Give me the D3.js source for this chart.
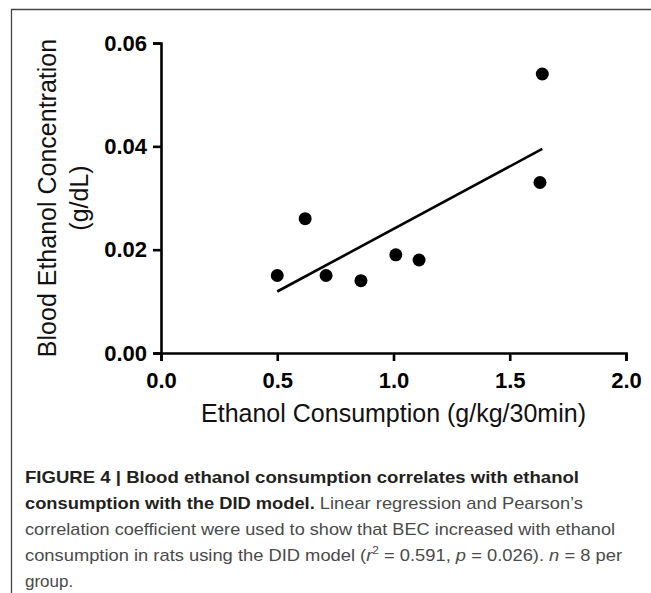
<!DOCTYPE html>
<html>
<head>
<meta charset="utf-8">
<script src="https://cdn.jsdelivr.net/npm/d3@7"></script>
<style>
  body { margin: 0; background: #fff; }
  svg { display: block; font-family: "Liberation Sans", Arial, Helvetica, sans-serif; }
</style>
</head>
<body>
<div id="chart"></div>
<script>
// values
var consumption = [0.50, 0.62, 0.71, 0.86, 1.01, 1.11, 1.63, 1.64];
var bec = [0.015, 0.026, 0.015, 0.014, 0.019, 0.018, 0.033, 0.054];
var fitX = [0.50, 1.64];
var fitY = [0.0119, 0.0395];
var xTicks = [0, 0.5, 1.0, 1.5, 2.0];
var yTicks = [0, 0.02, 0.04, 0.06];
var xTitle = "Ethanol Consumption (g/kg/30min)";
var yTitle = ["Blood Ethanol Concentration", "(g/dL)"];

var width = 651,
  height = 593;

var svg = d3
  .select("#chart")
  .append("svg")
  .attr("width", width)
  .attr("height", height);

// frame (top + left rule)
svg
  .append("path")
  .attr("d", "M11.5,593V9.5H651")
  .attr("fill", "none")
  .attr("stroke", "#444")
  .attr("stroke-width", 1.3);

var x = d3.scaleLinear().domain([0, 2]).range([161, 626]);
var y = d3.scaleLinear().domain([0, 0.06]).range([353, 43]);

var xAxis = svg
  .append("g")
  .attr("transform", `translate(0,${y(0)})`)
  .call(
    d3
      .axisBottom(x)
      .tickValues(xTicks)
      .tickFormat(d3.format(".1f"))
      .tickSizeOuter(0)
      .tickSize(8)
      .tickPadding(11)
  );
var yAxis = svg
  .append("g")
  .attr("transform", `translate(${x(0)},0)`)
  .call(
    d3
      .axisLeft(y)
      .tickValues(yTicks)
      .tickFormat(d3.format(".2f"))
      .tickSizeOuter(0)
      .tickSize(8)
      .tickPadding(6)
  );

[xAxis, yAxis].forEach((g) => {
  g.select(".domain").attr("stroke", "#000").attr("stroke-width", 2.6);
  g.selectAll(".tick line").attr("stroke", "#000").attr("stroke-width", 2.6);
  g.selectAll(".tick text")
    .attr("fill", "#000")
    .style("font-size", "22px")
    .style("font-weight", "bold")
    .style("font-family", '"Liberation Sans", Arial, sans-serif');
});

// regression line
svg
  .append("path")
  .datum(fitX.map((d, i) => [d, fitY[i]]))
  .attr("fill", "none")
  .attr("stroke", "#000")
  .attr("stroke-width", 2.6)
  .attr(
    "d",
    d3
      .line()
      .x((d) => x(d[0]))
      .y((d) => y(d[1]))
  );

svg
  .append("g")
  .selectAll("circle")
  .data(consumption)
  .enter()
  .append("circle")
  .attr("cx", (d) => x(d))
  .attr("cy", (d, i) => y(bec[i]))
  .attr("r", 6.5)
  .attr("fill", "#000");

// axis titles
svg
  .append("text")
  .attr("x", (x(0) + x(2)) / 2)
  .attr("y", 422)
  .attr("text-anchor", "middle")
  .style("font-size", "25px")
  .attr("fill", "#111")
  .text(xTitle);

svg
  .append("g")
  .attr("transform", `translate(0,${(y(0) + y(0.06)) / 2}) rotate(-90)`)
  .selectAll("text")
  .data(yTitle)
  .enter()
  .append("text")
  .attr("x", 0)
  .attr("y", (d, i) => 56 + i * 32)
  .attr("text-anchor", "middle")
  .style("font-size", "25px")
  .attr("fill", "#111")
  .text((d) => d);

// caption
var cap = svg
  .append("g")
  .attr("transform", "translate(25,0)")
  .style("font-size", "17px");

var captionLines = [
  { y: 483, len: 554, parts: [{ t: "FIGURE 4 | Blood ethanol consumption correlates with ethanol", b: true }] },
  {
    y: 509,
    len: 558,
    parts: [
      { t: "consumption with the DID model.", b: true },
      { t: " Linear regression and Pearson\u2019s" },
    ],
  },
  { y: 535, len: 590, parts: [{ t: "correlation coefficient were used to show that BEC increased with ethanol" }] },
  {
    y: 561,
    len: 597,
    parts: [
      { t: "consumption in rats using the DID model (" },
      { t: "r", i: true },
      { t: "2", sup: true },
      { t: " = 0.591, " },
      { t: "p", i: true },
      { t: " = 0.026). " },
      { t: "n", i: true },
      { t: " = 8 per" },
    ],
  },
  { y: 587, len: null, parts: [{ t: "group." }] },
];

captionLines.forEach((line) => {
  var t = cap.append("text").attr("x", 0).attr("y", line.y);
  var prevSup = false;
  line.parts.forEach((p) => {
    var s = t
      .append("tspan")
      .text(p.t)
      .attr("fill", p.b ? "#231f20" : "#4a4a4a")
      .style("font-weight", p.b ? "bold" : "normal")
      .style("font-style", p.i ? "italic" : "normal");
    if (p.sup) s.attr("dy", -7).style("font-size", "11px");
    else if (prevSup) s.attr("dy", 7);
    prevSup = !!p.sup;
  });
  if (line.len) t.attr("textLength", line.len).attr("lengthAdjust", "spacingAndGlyphs");
});
</script>
</body>
</html>
